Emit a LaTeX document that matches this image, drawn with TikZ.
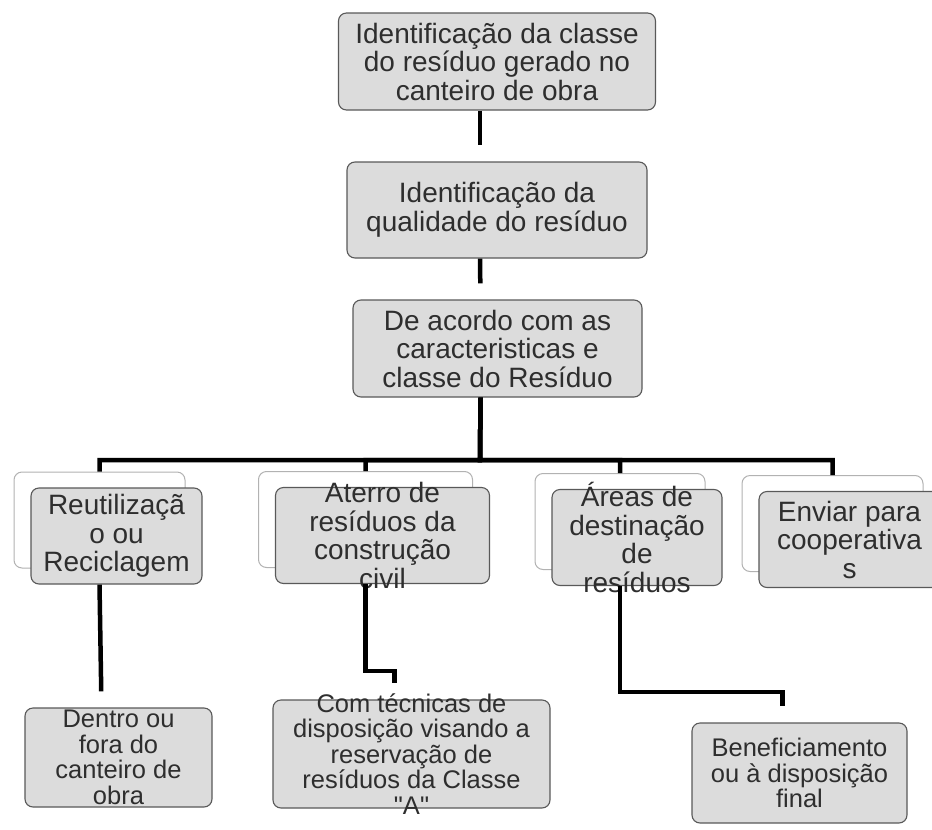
\documentclass[tikz,border=0pt]{standalone}
\usepackage{fontspec}
\setmainfont{Liberation Sans}[Ligatures=TeXOff]
\definecolor{cinza}{RGB}{220,220,220}
\tikzset{
caixa/.style={draw=black!65, fill=cinza, rounded corners=8pt, line width=1.1pt, minimum height=96pt},
fundo/.style={draw=black!30, fill=white, rounded corners=8pt, line width=1pt, minimum height=96pt},
texto/.style={align=center, text=black!82, font=\fontsize{28}{28.5}\selectfont},
menor/.style={font=\fontsize{25.5}{25.5}\selectfont},
ligacao/.style={line width=4.5pt},
ramo/.style={ligacao, shorten >=16pt},
}

\begin{document}
\begin{tikzpicture}[x=1pt, y=-1pt]
    \useasboundingbox (0,0) rectangle (932,830);

    \node[caixa, minimum width=317pt, minimum height=97pt, label={[texto]center:Identificação da classe\\do resíduo  gerado no\\canteiro de obra}] (b1) at (497,61.5) {};
    \node[caixa, minimum width=300pt, label={[texto]center:Identificação da\\qualidade do resíduo}] (b2) at (497,210) {};
    \node[caixa, minimum width=289pt, minimum height=97pt, label={[texto]center:De acordo com as\\caracteristicas e\\classe do Resíduo}] (b3) at (497.5,348.5) {};
    \coordinate (barra) at (480,460);

    \node[fundo, minimum width=171pt] (t1) at (99.5,520) {};
    \node[caixa, minimum width=171pt, xshift=17pt, yshift=-16pt, label={[texto]center:Reutilizaçã\\o ou\\Reciclagem}] (r1) at (t1) {};
    \node[fundo, minimum width=214pt] (t2) at (365.5,519.5) {};
    \node[caixa, minimum width=214pt, xshift=17pt, yshift=-16pt, label={[texto]center:Aterro de\\resíduos da\\construção\\civil}] (a1) at (t2) {};
    \node[fundo, minimum width=170pt] (t3) at (620,521.5) {};
    \node[caixa, minimum width=170pt, xshift=17pt, yshift=-16pt, label={[texto]center:Áreas de\\destinação\\de\\resíduos}] (e1) at (t3) {};
    \node[fundo, minimum width=181pt] (t4) at (832.5,523.5) {};
    \node[caixa, minimum width=181pt, xshift=17pt, yshift=-16pt, label={[texto]center:Enviar para\\cooperativa\\s}] (v1) at (t4) {};

    \node[caixa, minimum width=187pt, minimum height=99pt, label={[texto, menor]center:Dentro ou\\fora do\\canteiro de\\obra}] (d1) at (118.5,757.5) {};
    \node[caixa, minimum width=277pt, minimum height=108pt, label={[texto, menor]center:Com técnicas de\\disposição visando a\\reservação de\\resíduos da Classe\\"A"}] (c2) at (411.5,754) {};
    \node[caixa, minimum width=215pt, minimum height=100pt, label={[texto, menor]center:Beneficiamento\\ou à disposição\\final}] (f3) at (799.5,773) {};

    \draw[ramo] ([xshift=-17pt]b1.south) -- ([xshift=-17pt]b2.north);
    \draw[ramo] ([xshift=-17pt]b2.south) -- ([xshift=-17pt]b3.north);
    \foreach \alvo in {t1,t2,t3,t4}
        \draw[ligacao] ([xshift=-17pt]b3.south) -- (barra) -| (\alvo.north);
    \draw[ramo] ([xshift=-17pt]r1.south) -- ([xshift=-17pt]d1.north);
    \draw[ramo] ([xshift=-17pt]a1.south) -- ++(0,87) -| ([xshift=-17pt]c2.north);
    \draw[ramo] ([xshift=-17pt]e1.south) -- ++(0,106) -| ([xshift=-17pt]f3.north);
\end{tikzpicture}
\end{document}
